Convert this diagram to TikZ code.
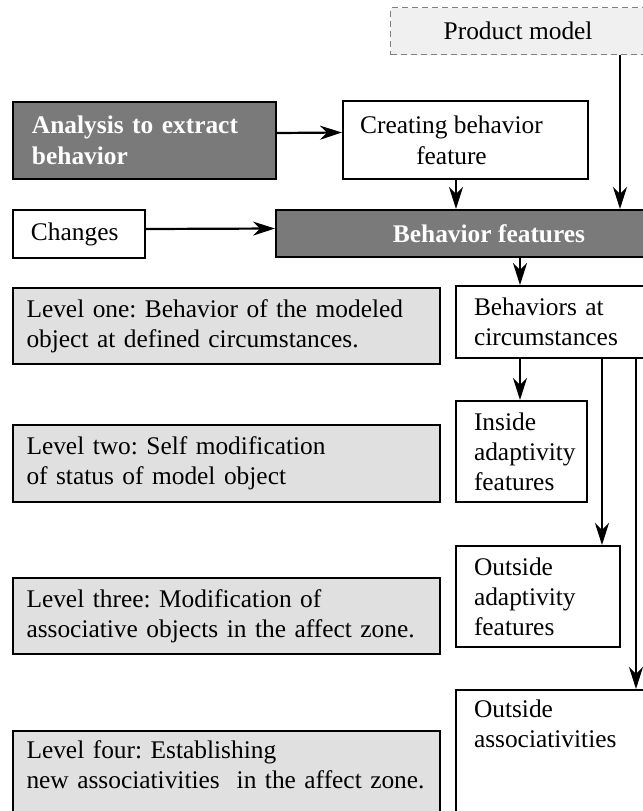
\documentclass[tikz,border=0pt]{standalone}
\usepackage{fontspec}
\setmainfont{Liberation Serif}
\usetikzlibrary{arrows.meta}
\definecolor{boxDark}{RGB}{122,122,122}
\definecolor{boxLight}{RGB}{224,224,224}
\definecolor{boxPale}{RGB}{240,240,240}
\frenchspacing

\begin{document}
\begin{tikzpicture}[%
	x=0.5pt, y=-0.5pt,
	every node/.style={
		font=\fontsize{12.7}{15}\selectfont,
	},
	box/.style={draw, line width=1pt, anchor=north west, align=left,
		inner xsep=9pt, inner ysep=0pt},
	darkbox/.style={box, fill=boxDark, text=white,
		font=\fontsize{12.7}{15.5}\selectfont\bfseries},
	levelbox/.style={box, fill=boxLight, text width=200pt,
		inner xsep=6.75pt, minimum height=38pt},
	arrow/.style={-{Stealth[length=11pt,width=7pt,inset=3.5pt]}, line width=1.1pt},
	]
	% fix the size of the figure
	\useasboundingbox (0,0) rectangle (643,811);
	\clip (0,0) rectangle (643,811);
	
	% columns of the vertical arrows
	\coordinate (colP) at (620,0);
	\coordinate (colF) at (456,0);
	\coordinate (colA) at (520,0);
	\coordinate (colB) at (602,0);
	\coordinate (colC) at (636,0);
	
	% top rows
	\node[box, dash pattern=on 3pt off 2pt, draw=gray, line width=0.6pt,
		fill=boxPale, align=center, minimum width=127.5pt, minimum height=23.5pt]
		(model) at (390,7) {Product model};
	\node[darkbox, text width=112.5pt, inner xsep=9.5pt, minimum height=38.5pt]
		(analysis) at (12,101) {Analysis to extract\\behavior};
	\node[box, font=\fontsize{12.7}{15.5}\selectfont, align=center, inner xsep=8pt,
		minimum width=122.5pt, minimum height=39pt]
		(creating) at (342,100) {Creating behavior\hspace*{14pt}\\feature\hspace*{14pt}};
	\node[box, text width=48pt, minimum height=24pt]
		(changes) at (12,209) {Changes};
	\node[darkbox, align=center, minimum width=213pt, minimum height=23.5pt]
		(features) at (275,209) {Behavior features};
	
	% right column
	\node[box, text width=79.5pt, minimum height=36pt]
		(circum) at (455,285) {Behaviors at\\circumstances};
	\node[box, text width=47.5pt, minimum height=50.5pt]
		(inside) at (455,400) {Inside\\adaptivity\\features};
	\node[box, text width=64pt, minimum height=50.5pt]
		(outadapt) at (455,545) {Outside\\adaptivity\\features};
	\node[box, text width=79.5pt, inner ysep=5pt, text depth=60pt]
		(outassoc) at (455,689) {Outside\\associativities};
	
	% levels
	\node[levelbox] (levelone) at (12,287)
		{Level one: Behavior of the modeled\\object at defined circumstances.};
	\node[levelbox, minimum height=38.5pt] (leveltwo) at (12,424)
		{Level two: Self modification\\of status of model object};
	\node[levelbox] (levelthree) at (12,577)
		{Level three: Modification of\\associative objects in the affect zone.};
	\node[levelbox, inner ysep=5pt, text depth=60pt] (levelfour) at (12,730)
		{Level four: Establishing\\new associativities\ \ in the affect zone.};
	
	% arrows
	\draw[arrow] (model.south -| colP) -- (features.north -| colP);
	\draw[arrow] ([yshift=3.75pt]analysis.east) -- ([yshift=3.75pt]creating.west);
	\draw[arrow] (creating.south -| colF) -- (features.north -| colF);
	\draw[arrow] ([yshift=2.5pt]changes.east) -- ([yshift=2.5pt]features.west);
	\draw[arrow] (features.south -| colA) -- (circum.north -| colA);
	\draw[arrow] (circum.south -| colA) -- (inside.north -| colA);
	\draw[arrow] (circum.south -| colB) -- (outadapt.north -| colB);
	\draw[arrow] (circum.south -| colC) -- (outassoc.north -| colC);
\end{tikzpicture}
\end{document}
